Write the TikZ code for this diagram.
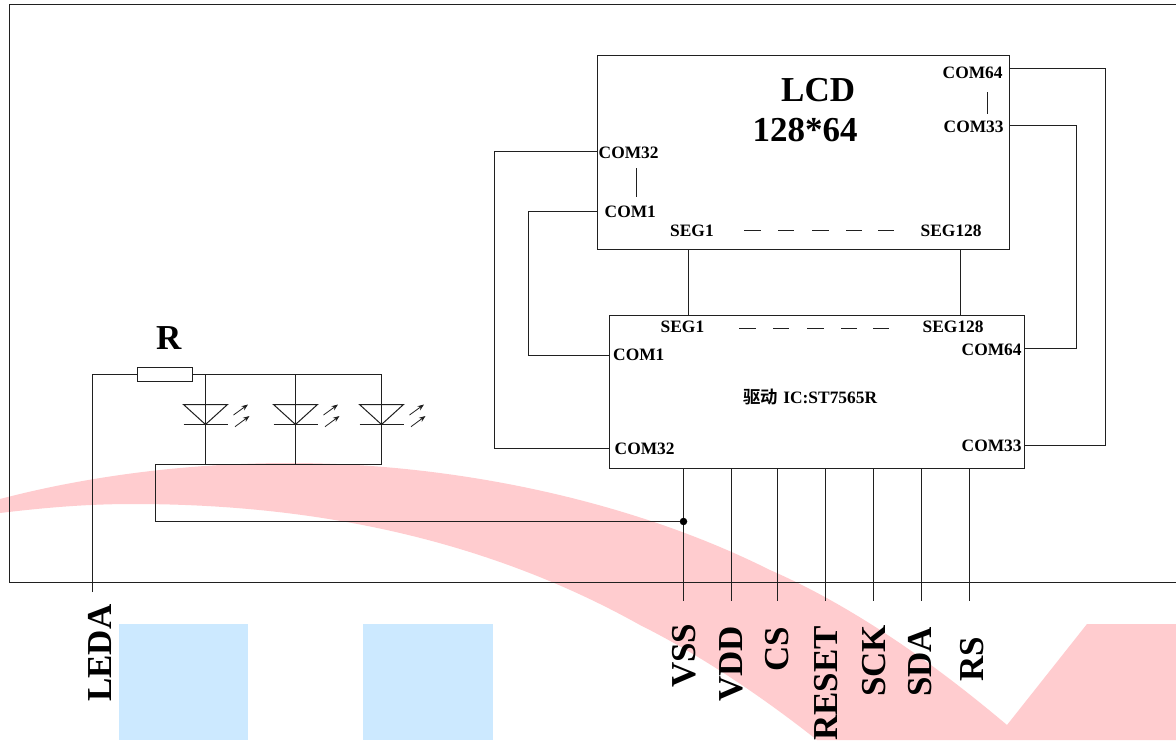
\documentclass[tikz,border=0pt]{standalone}
\usepackage{fontspec}
\setmainfont{Liberation Serif}
\newfontfamily\cjkfont{Noto Sans CJK SC}[BoldFont={* Bold}]
\usetikzlibrary{arrows.meta}
\definecolor{wirec}{HTML}{202020}
\definecolor{swoosh}{HTML}{FFCCCF}
\definecolor{panel}{HTML}{CCE9FF}
\tikzset{
  wire/.style={draw=wirec,line width=1pt},
  box/.style={draw=wirec,line width=1pt,fill=none,inner sep=0pt,rectangle},
  small/.style={inner sep=0pt,anchor=base west,font=\fontsize{17.4}{17.4}\selectfont\bfseries},
  big/.style={inner sep=0pt,anchor=base west,font=\fontsize{35}{35}\selectfont\bfseries},
  pinlabel/.style={big,rotate=90},
  lightarrow/.style={draw=wirec,line width=0.8pt,-{Stealth[length=6.5pt,width=5pt]}},
  dot/.style={circle,fill=black,inner sep=0pt,minimum size=7.5pt},
}
\begin{document}
\begin{tikzpicture}[x=1pt,y=-1pt]
\useasboundingbox (0,0) rectangle (1176,740);
\clip (0,0) rectangle (1176,740);
\fill[white] (0,0) rectangle (1176,740);
% background artwork
\fill[swoosh] (0,499) .. controls (80,478) and (180,463) .. (290,463)
  .. controls (440,463) and (620,495) .. (770,570)
  .. controls (850,605) and (930,660) .. (1007,725)
  -- (1087,624) -- (1176,624) -- (1176,740) -- (817,740)
  .. controls (760,695) and (700,655) .. (640,625)
  .. controls (470,530) and (290,504) .. (133,504)
  .. controls (90,504) and (50,507) .. (0,513) -- cycle;
\fill[panel] (119,624) rectangle (248,740);
\fill[panel] (363,624) rectangle (493,740);
% frame
\draw[wire] (1176,4.5) -- (9.5,4.5) -- (9.5,582.5) -- (1176,582.5);
% main boxes
\node[box,minimum width=412pt,minimum height=194pt] (lcd) at (803.5,152) {};
\node[box,minimum width=415pt,minimum height=153pt] (ic) at (817,391.5) {};
% lcd to ic connector end points
\coordinate (lcdA) at (597.5,151.5); \coordinate (icA) at (609.5,448.5);
\coordinate (lcdB) at (597.5,211.5); \coordinate (icB) at (609.5,355.5);
\coordinate (lcdC) at (1009.5,68.5); \coordinate (icC) at (1024.5,445.5);
\coordinate (lcdD) at (1009.5,125.5);\coordinate (icD) at (1024.5,348.5);
\coordinate (busA) at (494.5,0); \coordinate (busB) at (528.5,0);
\coordinate (busC) at (1105.5,0);  \coordinate (busD) at (1076.5,0);
\draw[wire] (lcdA) -- (busA |- lcdA) -- (busA |- icA) -- (icA);
\draw[wire] (lcdB) -- (busB |- lcdB) -- (busB |- icB) -- (icB);
\draw[wire] (lcdC) -- (busC |- lcdC) -- (busC |- icC) -- (icC);
\draw[wire] (lcdD) -- (busD |- lcdD) -- (busD |- icD) -- (icD);
\draw[wire] (lcd.south -| 688.5,0) -- (ic.north -| 688.5,0);
\draw[wire] (lcd.south -| 960.5,0) -- (ic.north -| 960.5,0);
% inner ticks and dash rows
\draw[wire] (636.5,168) -- (636.5,197);
\draw[wire] (987.5,92) -- (987.5,114);
\foreach \a/\b in {744/761,778/794,812/829,846/862,878/894} \draw[wire] (\a,230.5) -- (\b,230.5);
\foreach \a/\b in {739/756,773/789,807/824,841/857,873/889} \draw[wire] (\a,328.5) -- (\b,328.5);
% pins
\foreach \n/\x in {vss/683.5,vdd/731.5,cs/777.5,reset/825.5,sck/873.5,sda/921.5,rs/969.5}{
  \coordinate (pin\n) at (\x,601);
  \draw[wire] (ic.south -| pin\n) -- (pin\n);
}
\node[dot] (junction) at (683.5,521.5) {};
% LED circuit
\coordinate (leda) at (92.5,592);
\coordinate (railL) at (155.5,464.5);
\coordinate (railTR) at (381.5,374.5);
\coordinate (railBR) at (381.5,464.5);
\node[box,minimum width=55pt,minimum height=14pt] (res) at (165,374) {};
\draw[wire] (leda) -- (92.5,374.5) -- (res.west |- railTR);
\draw[wire] (res.east |- railTR) -- (railTR) -- (railBR) -- (railL) -- (railL |- junction) -- (junction);
\foreach \x in {205.5,295.5,381.5}{
  \draw[wire] (\x,374.5) -- (\x,464.5);
  \draw[wire] (\x-22,404.5) -- (\x+22,404.5) -- (\x,424.5) -- cycle;
  \draw[wire] (\x-22,424.5) -- (\x+22,424.5);
  \draw[lightarrow] (\x+28,415) -- (\x+42.5,404.5);
  \draw[lightarrow] (\x+29.5,426.7) -- (\x+44,416);
}
% texts in the lcd
\node[big] (tlcd) at (781,101) {LCD};
\node[big] (tsize) at (752.5,141) {128*64};
\node[small] (t1) at (598.5,158) {COM32};
\node[small] (t2) at (604.5,217.5) {COM1};
\node[small] (t3) at (670,236.5) {SEG1};
\node[small] (t4) at (920.5,236.5) {SEG128};
\node[small] (t5) at (942.5,78) {COM64};
\node[small] (t6) at (943.5,132) {COM33};
% texts in the driver
\node[small] (t7) at (660.5,332) {SEG1};
\node[small] (t8) at (922.5,332) {SEG128};
\node[small] (t9) at (613,360) {COM1};
\node[small] (t10) at (961.5,355) {COM64};
\node[small] (t11) at (614.5,454) {COM32};
\node[small] (t12) at (961.5,451) {COM33};
\node[small] (t13) at (743,403) {{\cjkfont\bfseries 驱动}\hspace{1pt} IC:ST7565R};
% other labels
\node[big] (tr) at (156,349) {R};
\node[pinlabel] (lleda) at (111.5,702) {LEDA};
\node[pinlabel] (lvss) at (695.5,688) {VSS};
\node[pinlabel] (lvdd) at (742.5,702) {VDD};
\node[pinlabel] (lcs) at (788.5,671.5) {CS};
\node[pinlabel] (lreset) at (837,741) {RESET};
\node[pinlabel] (lsck) at (885,697) {SCK};
\node[pinlabel] (lsda) at (931.5,697) {SDA};
\node[pinlabel] (lrs) at (983,682) {RS};
\end{tikzpicture}
\end{document}
